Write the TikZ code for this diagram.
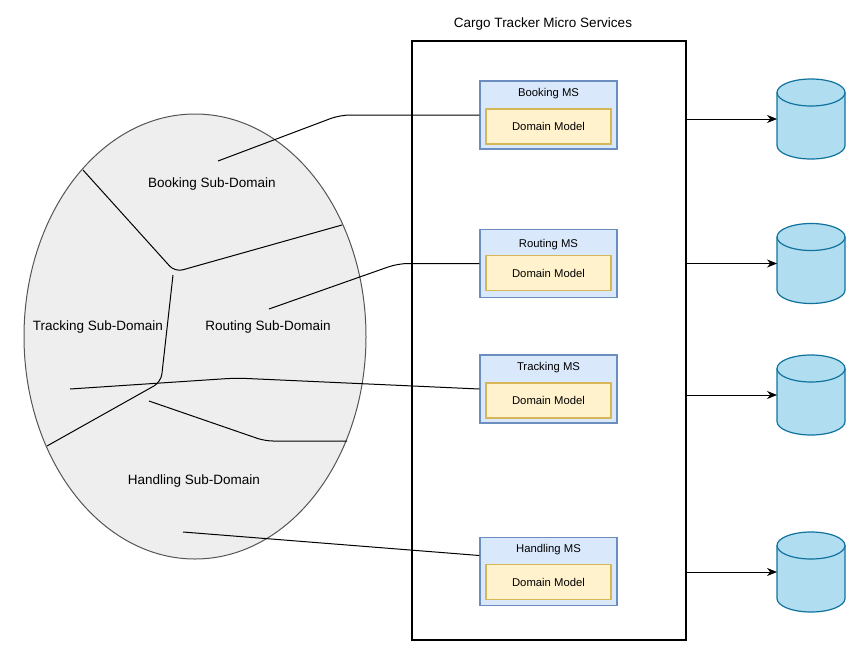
\documentclass[tikz,border=0pt]{standalone}
\usepackage{fontspec}
\setmainfont{Liberation Sans}
\usetikzlibrary{arrows.meta,shapes.geometric}

\definecolor{ovalfill}{HTML}{EEEEEE}
\definecolor{ovalline}{HTML}{555555}
\definecolor{msfill}{HTML}{DAE8FC}
\definecolor{msline}{HTML}{6C8EBF}
\definecolor{modelfill}{HTML}{FFF2CC}
\definecolor{modelline}{HTML}{D6B656}
\definecolor{dbfill}{HTML}{B1DDF0}
\definecolor{dbline}{HTML}{10739E}

\tikzset{
  bigtext/.style={font=\fontsize{13.5}{16}\selectfont},
  smalltext/.style={font=\fontsize{11.3}{13}\selectfont},
  msbox/.style={draw=msline,fill=msfill,line width=1.2pt,minimum width=137pt,minimum height=68pt,inner sep=0pt},
  modelbox/.style={draw=modelline,fill=modelfill,line width=1.2pt,minimum width=125pt,minimum height=35pt,inner sep=0pt,smalltext},
  dbcyl/.style={draw=dbline,fill=dbfill,line width=1.2pt},
  link/.style={line width=1pt,rounded corners=10pt},
  border/.style={line width=1pt,rounded corners=8pt},
  dbarrow/.style={line width=1pt,-{Stealth[length=10pt,width=8pt]}},
}

\begin{document}
\begin{tikzpicture}[x=1pt,y=1pt,yscale=-1,xscale=1]
\useasboundingbox (0,0) rectangle (866,648);

% sub-domains
\node [ellipse,draw=ovalline,fill=ovalfill,line width=1pt,minimum width=342pt,minimum height=445pt,inner sep=0pt] (subdomains) at (195,336.5) {};
\draw [border] (83,170) -- (175,272) -- (342,225) ;
\draw [border] (173,275) -- (161,382) -- (47,446) ;
\draw [border] (149,401) -- (265,441) -- (347,441) ;
\node [bigtext] (bookingsd) at (212,184) {Booking Sub-Domain};
\node [bigtext] (trackingsd) at (98,327) {Tracking Sub-Domain};
\node [bigtext] (routingsd) at (268,327) {Routing Sub-Domain};
\node [bigtext] (handlingsd) at (194,481) {Handling Sub-Domain};

% micro services
\node [draw,line width=1.3pt,minimum width=274pt,minimum height=599pt,inner sep=0pt] (msframe) at (549,340.5) {};
\node [bigtext] (mstitle) at (543,24) {Cargo Tracker Micro Services};

\node [msbox] (bookingms) at (548.5,115) {};
\node [smalltext] (bookinglabel) at (548.5,93.5) {Booking MS};
\node [modelbox] (bookingmodel) at (548.5,126.5) {Domain Model};

\node [msbox] (routingms) at (548.5,263.5) {};
\node [smalltext] (routinglabel) at (548.5,245) {Routing MS};
\node [modelbox] (routingmodel) at (548.5,273) {Domain Model};

\node [msbox] (trackingms) at (548.5,389) {};
\node [smalltext] (trackinglabel) at (548.5,367.5) {Tracking MS};
\node [modelbox] (trackingmodel) at (548.5,400.5) {Domain Model};

\node [msbox] (handlingms) at (548.5,571.5) {};
\node [smalltext] (handlinglabel) at (548.5,550) {Handling MS};
\node [modelbox] (handlingmodel) at (548.5,582) {Domain Model};

% links
\coordinate (bookingsrc) at (218,161);
\coordinate (routingsrc) at (269,309);
\coordinate (trackingsrc) at (70,389);
\coordinate (handlingsrc) at (183,532);
\draw [link] (bookingsrc) -- (340,115) -- (bookingms.west) ;
\draw [link] (routingsrc) -- (398,263.5) -- (routingms.west) ;
\draw [link] (trackingsrc) -- (236,378) -- (trackingms.west) ;
\draw [link] (handlingsrc) -- ([yshift=-16pt]handlingms.west) ;

% data stores
\draw [dbcyl,shift={(811,119)}] (-34,-26.5) -- (-34,26.5) arc[start angle=180,end angle=0,x radius=34,y radius=13.5] -- (34,-26.5) arc[start angle=0,end angle=-180,x radius=34,y radius=13.5] -- cycle;
\draw [dbcyl,fill=none,shift={(811,119)}] (-34,-26.5) arc[start angle=180,end angle=0,x radius=34,y radius=13.5];
\draw [dbcyl,shift={(811,263.5)}] (-34,-26.5) -- (-34,26.5) arc[start angle=180,end angle=0,x radius=34,y radius=13.5] -- (34,-26.5) arc[start angle=0,end angle=-180,x radius=34,y radius=13.5] -- cycle;
\draw [dbcyl,fill=none,shift={(811,263.5)}] (-34,-26.5) arc[start angle=180,end angle=0,x radius=34,y radius=13.5];
\draw [dbcyl,shift={(811,395)}] (-34,-26.5) -- (-34,26.5) arc[start angle=180,end angle=0,x radius=34,y radius=13.5] -- (34,-26.5) arc[start angle=0,end angle=-180,x radius=34,y radius=13.5] -- cycle;
\draw [dbcyl,fill=none,shift={(811,395)}] (-34,-26.5) arc[start angle=180,end angle=0,x radius=34,y radius=13.5];
\draw [dbcyl,shift={(811,572)}] (-34,-26.5) -- (-34,26.5) arc[start angle=180,end angle=0,x radius=34,y radius=13.5] -- (34,-26.5) arc[start angle=0,end angle=-180,x radius=34,y radius=13.5] -- cycle;
\draw [dbcyl,fill=none,shift={(811,572)}] (-34,-26.5) arc[start angle=180,end angle=0,x radius=34,y radius=13.5];
\coordinate (bookingdb) at (777,119);
\coordinate (routingdb) at (777,263.5);
\coordinate (trackingdb) at (777,395);
\coordinate (handlingdb) at (777,572);

\draw [dbarrow] (msframe.east |- bookingdb) -- (bookingdb) ;
\draw [dbarrow] (msframe.east |- routingdb) -- (routingdb) ;
\draw [dbarrow] (msframe.east |- trackingdb) -- (trackingdb) ;
\draw [dbarrow] (msframe.east |- handlingdb) -- (handlingdb) ;
\end{tikzpicture}
\end{document}
